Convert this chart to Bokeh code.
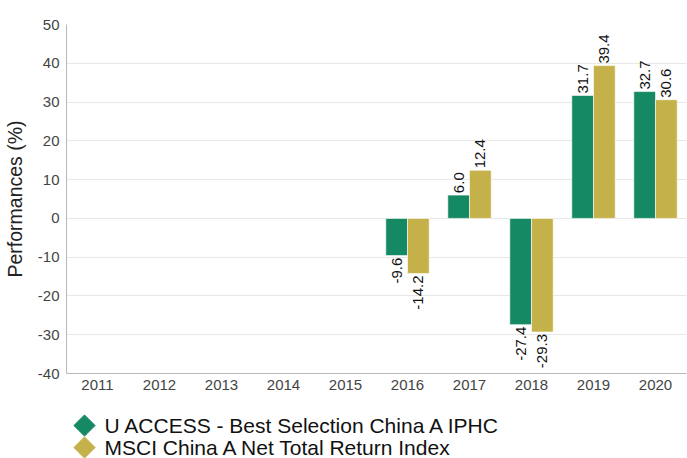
import math
from bokeh.plotting import figure
from bokeh.layouts import column
from bokeh.models import ColumnDataSource, Range1d, FactorRange, LabelSet
from bokeh.core.properties import value
from bokeh.transform import dodge
from bokeh.embed import file_html
from bokeh.resources import INLINE

years = ["2011", "2012", "2013", "2014", "2015", "2016", "2017", "2018", "2019", "2020"]
fund = [None, None, None, None, None, -9.6, 6.0, -27.4, 31.7, 32.7]
index = [None, None, None, None, None, -14.2, 12.4, -29.3, 39.4, 30.6]
series_names = ["U ACCESS - Best Selection China A IPHC", "MSCI China A Net Total Return Index"]
y_ticks = [-40, -30, -20, -10, 0, 10, 20, 30, 40, 50]

GREEN = "#158864"
GOLD = "#c5b14a"
FONT = "Liberation Sans"

chart = figure(x_range=FactorRange(*years), y_range=Range1d(-40, 50),
               width=687, height=392,
               min_border_left=66, min_border_right=1, min_border_top=24, min_border_bottom=16,
               output_backend="svg", toolbar_location=None)
chart.outline_line_color = None
chart.background_fill_color = "white"

def src(vals):
    ys = [y for y, v in zip(years, vals) if v is not None]
    vs = [v for v in vals if v is not None]
    return ColumnDataSource(dict(year=ys, val=vs, txt=["%.1f" % v for v in vs]))

s_fund = src(fund)
s_idx = src(index)
off = 0.175
w = 0.35

chart.vbar(x=dodge("year", -off, range=chart.x_range), top="val", bottom=0, width=w,
           source=s_fund, fill_color=GREEN, line_color="white", line_width=0.6)
chart.vbar(x=dodge("year", off, range=chart.x_range), top="val", bottom=0, width=w,
           source=s_idx, fill_color=GOLD, line_color="white", line_width=0.6)

for s, o in ((s_fund, -off), (s_idx, off)):
    for sign in (1, -1):
        d = s.data
        keep = [i for i, v in enumerate(d["val"]) if (v >= 0) == (sign > 0)]
        ss = ColumnDataSource({k: [d[k][i] for i in keep] for k in d})
        lab = LabelSet(x=dodge("year", o, range=chart.x_range), y="val", text="txt", source=ss,
                       angle=math.pi / 2, text_align="left" if sign > 0 else "right",
                       text_baseline="middle", y_offset=2 * sign,
                       text_font=value(FONT), text_font_size="15px", text_color="#111111")
        chart.add_layout(lab)

chart.yaxis.ticker = y_ticks
chart.yaxis.major_label_overrides = {t: str(t) for t in y_ticks}
chart.yaxis.axis_label = "Performances (%)"
chart.yaxis.axis_label_text_font = FONT
chart.yaxis.axis_label_text_font_size = "19.5px"
chart.yaxis.axis_label_text_font_style = "normal"
chart.yaxis.axis_label_text_color = "#222222"
chart.yaxis.axis_label_standoff = 9
for ax in (chart.xaxis, chart.yaxis):
    ax.major_label_text_font = FONT
    ax.major_label_text_font_size = "15px"
    ax.major_label_text_color = "#444444"
    ax.major_tick_line_color = None
    ax.minor_tick_line_color = None
    ax.major_tick_in = 0
    ax.major_tick_out = 0
    ax.axis_line_color = "#b8b8b8"
    ax.major_label_standoff = 7
chart.xaxis.major_label_standoff = 6
chart.xgrid.grid_line_color = None
chart.ygrid.grid_line_color = "#e8e8e8"
chart.ygrid.ticker = y_ticks

# legend as its own small figure below the chart; its frame lines up with the chart's frame
leg = figure(width=687, height=66, x_range=Range1d(66, 686), y_range=Range1d(66, 0),
             min_border_left=66, min_border_right=1, min_border_top=0, min_border_bottom=0,
             x_axis_type=None, y_axis_type=None,
             output_backend="svg", toolbar_location=None)
leg.outline_line_color = None
leg.grid.visible = False
leg_src = ColumnDataSource(dict(
    x=[84, 84], y=[33, 55], tx=[104, 104], name=series_names, color=[GREEN, GOLD]))
leg.scatter(x="x", y="y", marker="square", angle=math.pi / 4, size=15,
            fill_color="color", line_color="color", source=leg_src)
leg.text(x="tx", y="y", text="name", source=leg_src, text_baseline="middle",
         text_font=value(FONT), text_font_size="21px", text_color="#111111")

p = column(chart, leg, spacing=0)

open("out.html", "w").write(file_html(p, INLINE))
